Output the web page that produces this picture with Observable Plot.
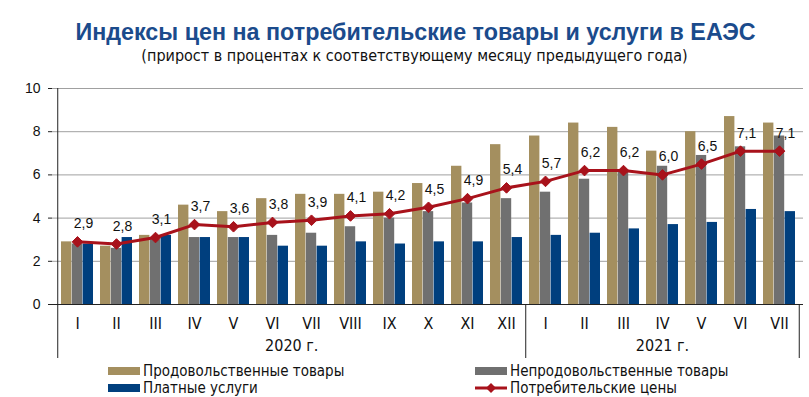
<!DOCTYPE html>
<html><head><meta charset="utf-8">
<script src="https://cdn.jsdelivr.net/npm/d3@7"></script>
<script src="https://cdn.jsdelivr.net/npm/@observablehq/plot@0.6"></script>
<style>
body{margin:0;background:#fff;width:809px;height:397px;overflow:hidden;position:relative;font-family:"Liberation Sans",Arial,sans-serif}
#title{position:absolute;left:11px;width:809px;top:19px;text-align:center;font-weight:bold;font-size:23.3px;color:#1B4B8C;line-height:26px;white-space:nowrap}
#sub{position:absolute;left:10px;width:809px;top:46px;text-align:center;font-size:16px;line-height:20px;color:#111;font-family:"Liberation Sans Narrow","Arial Narrow","DejaVu Sans Condensed",sans-serif;white-space:nowrap}
#chart{position:absolute;left:0;top:75px}
.leg{position:absolute;height:18px;line-height:18px;font-size:15px;color:#111;font-family:"Liberation Sans Narrow","Arial Narrow","DejaVu Sans Condensed",sans-serif;white-space:nowrap;display:flex;align-items:center}
.sw{display:inline-block;width:32px;height:8px;margin-right:3px}
</style></head>
<body>
<div id="title">Индексы цен на потребительские товары и услуги в ЕАЭС</div>
<div id="sub">(прирост в процентах к соответствующему месяцу предыдущего года)</div>
<div id="chart"></div>
<div id="legend"></div>
<script>
const months2020 = ["I","II","III","IV","V","VI","VII","VIII","IX","X","XI","XII"];
const months2021 = ["I","II","III","IV","V","VI","VII"];
const years = ["2020 г.", "2021 г."];
const seriesNames = ["Продовольственные товары","Непродовольственные товары","Платные услуги","Потребительские цены"];
const food     = [2.9,2.7,3.2,4.6,4.3,4.9,5.1,5.1,5.2,5.6,6.4,7.4, 7.8,8.4,8.2,7.1,8.0,8.7,8.4];
const nonfood  = [2.8,2.6,3.0,3.1,3.1,3.2,3.3,3.6,4.0,4.3,4.7,4.9, 5.2,5.8,6.2,6.4,6.9,7.3,7.8];
const services = [2.8,3.1,3.2,3.1,3.1,2.7,2.7,2.9,2.8,2.9,2.9,3.1, 3.2,3.3,3.5,3.7,3.8,4.4,4.3];
const cpi      = [2.9,2.8,3.1,3.7,3.6,3.8,3.9,4.1,4.2,4.5,4.9,5.4, 5.7,6.2,6.2,6.0,6.5,7.1,7.1];
const colors = ["#A48F5F","#707070","#003F7E","#A8121B"];

const keys = months2020.map(m => "2020 " + m).concat(months2021.map(m => "2021 " + m));
const barSeries = [food, nonfood, services];

const W = 809, H = 290, mL = 52, mR = 6, mT = 13, mB = 61;
const pInner = 0.18, pOuter = 0.09;
const step = (W - mL - mR) / (keys.length - pInner + 2 * pOuter);
const bw = step * (1 - pInner);

const barMarks = barSeries.map((vals, i) =>
  Plot.barY(keys.map((k, j) => ({key: k, value: vals[j]})), {
    x: "key", y: "value", fill: colors[i],
    insetLeft: i * bw / 3, insetRight: (2 - i) * bw / 3
  })
);
const cpiRows = keys.map((k, j) => ({key: k, value: cpi[j]}));
const narrow = '"Liberation Sans Narrow","Arial Narrow","DejaVu Sans Condensed",sans-serif';

const chart = Plot.plot({
  width: W, height: H, marginTop: mT, marginBottom: mB, marginLeft: mL, marginRight: mR,
  x: {type: "band", domain: keys, paddingInner: pInner, paddingOuter: pOuter, label: null},
  y: {domain: [0, 10], label: null},
  style: {fontFamily: '"Liberation Sans",Arial,sans-serif', fontSize: "14px", color: "#111", background: "#fff"},
  marks: [
    Plot.gridY([2,4,6,8,10], {stroke: "#a0a0a0", strokeOpacity: 1}),
    ...barMarks,
    Plot.ruleY([0], {stroke: "#222"}),
    Plot.axisY([0,2,4,6,8,10], {tickSize: 4, tickPadding: 8, fontSize: 14, stroke: "#222"}),
    Plot.axisX({tickSize: 0, tickPadding: 13, tickFormat: k => k.split(" ")[1], fontSize: 16, fontFamily: narrow}),
    Plot.ruleX(["2020 I"], {x: d => d, y1: 10, y2: 0, dx: -step / 2, insetBottom: -54, stroke: "#222"}),
    Plot.ruleX(["2021 I"], {x: d => d, y1: 0, y2: 0, dx: -step / 2, insetBottom: -54, stroke: "#222"}),
    Plot.ruleX(["2021 VII"], {x: d => d, y1: 0, y2: 0, dx: step / 2, insetBottom: -54, stroke: "#222"}),
    Plot.text([years[0]], {x: () => "2020 VII", dx: -step / 2, frameAnchor: "bottom", dy: 46, text: d => d, fontSize: 16, fontFamily: narrow, fill: "#111"}),
    Plot.text([years[1]], {x: () => "2021 IV", frameAnchor: "bottom", dy: 46, text: d => d, fontSize: 16, fontFamily: narrow, fill: "#111"}),
    Plot.line(cpiRows, {x: "key", y: "value", stroke: colors[3], strokeWidth: 3}),
    Plot.dot(cpiRows, {x: "key", y: "value", symbol: "diamond2", r: 4.8, fill: colors[3], stroke: colors[3], strokeWidth: 1}),
    Plot.text(cpiRows, {x: "key", y: "value", text: d => d.value.toFixed(1).replace(".", ","), dx: 6, dy: -18, fontSize: 14, fill: "#111"})
  ]
});
document.getElementById("chart").appendChild(chart);

const legend = document.getElementById("legend");
const items = [
  {name: seriesNames[0], left: 108, top: 362, type: "bar", color: colors[0]},
  {name: seriesNames[1], left: 475, top: 362, type: "bar", color: colors[1]},
  {name: seriesNames[2], left: 108, top: 379, type: "bar", color: colors[2]},
  {name: seriesNames[3], left: 475, top: 379, type: "line", color: colors[3]}
];
for (const it of items) {
  const d = document.createElement("div");
  d.className = "leg";
  d.style.left = it.left + "px";
  d.style.top = it.top + "px";
  if (it.type === "bar") {
    const s = document.createElement("span");
    s.className = "sw"; s.style.background = it.color;
    d.appendChild(s);
  } else {
    const ns = "http://www.w3.org/2000/svg";
    const svg = document.createElementNS(ns, "svg");
    svg.setAttribute("width", 32); svg.setAttribute("height", 12);
    svg.style.marginRight = "3px";
    svg.innerHTML = `<line x1="0" y1="6" x2="32" y2="6" stroke="${it.color}" stroke-width="3"/><path d="M16 1L21 6L16 11L11 6Z" fill="${it.color}"/>`;
    d.appendChild(svg);
  }
  d.appendChild(document.createTextNode(it.name));
  legend.appendChild(d);
}
</script>
</body></html>
